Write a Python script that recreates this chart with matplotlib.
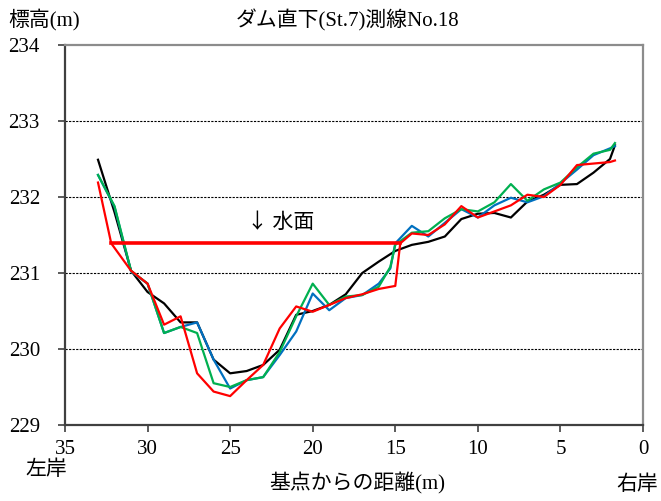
import matplotlib
matplotlib.use("Agg")
import matplotlib.pyplot as plt

plt.rcParams['font.family'] = ['Liberation Serif', 'Noto Sans CJK JP']

# 横断測量データ (基点からの距離 m, 標高 m)
dist_black = [33, 32, 31, 30, 29, 28, 27, 26, 25, 24, 23, 22, 21, 20, 19, 18,
              17, 16, 15, 14, 13, 12, 11, 10, 9, 8, 7, 6, 5, 4, 3, 2, 1.7]
elev_black = [232.49, 231.80, 231.03, 230.75, 230.60, 230.35, 230.35, 229.86,
              229.68, 229.71, 229.79, 229.99, 230.45, 230.50, 230.58, 230.72,
              231.00, 231.15, 231.29, 231.37, 231.41, 231.48, 231.71, 231.78,
              231.79, 231.73, 231.94, 232.03, 232.16, 232.17, 232.32, 232.50,
              232.68]

dist_blue = [33, 32, 31, 30, 29, 28, 27, 26, 25, 24, 23, 22, 21, 20, 19, 18,
             17, 16, 15.3, 15, 14, 13, 12, 11, 10, 9, 8, 7, 6, 5, 4, 3, 2, 1.7]
elev_blue = [232.29, 231.87, 231.02, 230.86, 230.21, 230.29, 230.35, 229.86,
             229.48, 229.59, 229.63, 229.92, 230.23, 230.73, 230.51, 230.67,
             230.71, 230.86, 231.06, 231.39, 231.62, 231.48, 231.66, 231.84,
             231.73, 231.89, 231.99, 231.93, 232.01, 232.18, 232.36, 232.55,
             232.64, 232.67]

dist_green = dist_blue
elev_green = [232.29, 231.88, 231.03, 230.86, 230.21, 230.29, 230.21, 229.55,
              229.50, 229.59, 229.63, 229.96, 230.43, 230.86, 230.58, 230.69,
              230.71, 230.82, 231.08, 231.37, 231.53, 231.55, 231.72, 231.84,
              231.81, 231.93, 232.17, 231.95, 232.10, 232.19, 232.39, 232.57,
              232.62, 232.71]

dist_red = [33, 32.2, 31, 30, 29, 28, 27, 26, 25, 24, 23, 22, 21, 20, 19, 18,
            17, 16, 15, 14.7, 14, 13, 12, 11, 10, 9, 8, 7, 6, 5, 4, 3, 2, 1.7]
elev_red = [232.19, 231.39, 231.03, 230.86, 230.32, 230.43, 229.68, 229.44,
            229.38, 229.59, 229.79, 230.27, 230.56, 230.49, 230.58, 230.67,
            230.72, 230.79, 230.83, 231.39, 231.52, 231.50, 231.64, 231.88,
            231.73, 231.81, 231.89, 232.03, 232.00, 232.16, 232.42, 232.44,
            232.46, 232.48]

# 水面
water_x = [32.2, 14.7]
water_level = 231.39

fig = plt.figure(figsize=(6.61, 5.01), dpi=100)
ax = fig.add_axes([0.0983, 0.1517, 0.8745, 0.7585])

ax.plot(dist_black, elev_black, color='black', lw=1.6)
ax.plot(dist_blue, elev_blue, color='#0070C0', lw=1.6)
ax.plot(dist_green, elev_green, color='#00B050', lw=1.6)
ax.plot(dist_red, elev_red, color='#FF0000', lw=1.6)
ax.plot(water_x, [water_level, water_level], color='#FF0000', lw=2.6)

ax.text(24.0, 231.67, '↓ 水面', ha='left', va='center', fontsize=15,
        family=['Noto Sans CJK JP', 'DejaVu Sans'])

ax.set_xlim(35, 0)
ax.set_ylim(229, 234)
ax.set_xticks(range(35, -1, -5))
ax.set_yticks(range(229, 235))

for y in range(230, 234):
    ax.axhline(y, color='black', lw=0.8, ls=(0, (2, 1.2)), zorder=0)

ax.tick_params(axis='both', direction='out', labelsize=15, width=1.2,
               color='#404040')
ax.tick_params(axis='y', length=5, pad=13)
ax.tick_params(axis='x', length=5, pad=6)

for side in ['left', 'bottom']:
    ax.spines[side].set_color('#404040')
    ax.spines[side].set_linewidth(1.6)
for side in ['top', 'right']:
    ax.spines[side].set_color('#8c8c8c')
    ax.spines[side].set_linewidth(1.6)

W, H = 661, 501
fig.text(8 / W, 1 - 20 / H, '標高(m)', ha='left', va='center', fontsize=15)
fig.text(348 / W, 1 - 20 / H, 'ダム直下(St.7)測線No.18', ha='center',
         va='center', fontsize=15)
fig.text(357 / W, 1 - 483 / H, '基点からの距離(m)', ha='center', va='center',
         fontsize=15)
fig.text(46 / W, 1 - 470 / H, '左岸', ha='center', va='center', fontsize=15)
fig.text(637 / W, 1 - 485 / H, '右岸', ha='center', va='center', fontsize=15)

fig.savefig('out.png', dpi=100)
